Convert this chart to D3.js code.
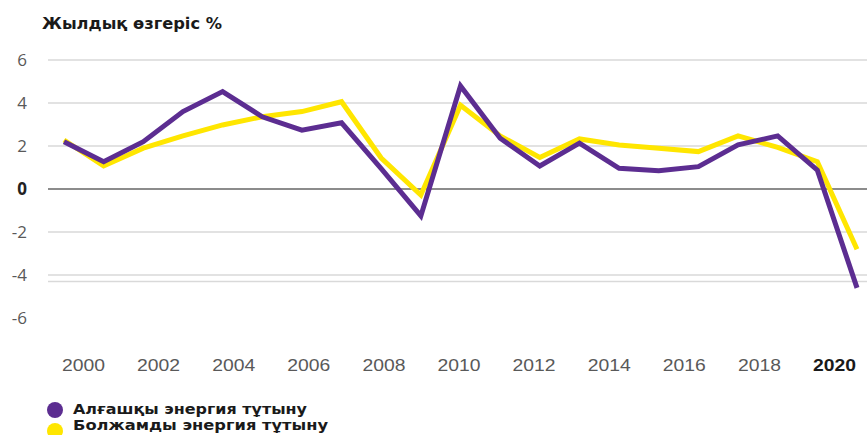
<!DOCTYPE html>
<html><head><meta charset="utf-8">
<script src="https://cdn.jsdelivr.net/npm/d3@7"></script>
<style>html,body{margin:0;padding:0;background:#fff;}svg{display:block;}</style>
</head><body>
<svg id="c" width="867" height="435"></svg>
<script>
const years = d3.range(2000, 2021);
const primary =  [2.2, 1.27, 2.2, 3.6, 4.53, 3.36, 2.74, 3.08, 0.95, -1.25, 4.79, 2.36, 1.07, 2.13, 0.96, 0.85, 1.04, 2.05, 2.47, 0.88, -4.6];
const forecast = [2.28, 1.07, 1.9, 2.47, 2.98, 3.36, 3.6, 4.06, 1.44, -0.28, 3.9, 2.47, 1.47, 2.33, 2.05, 1.9, 1.74, 2.47, 1.94, 1.27, -2.8];
const xTickLabels = [2000, 2002, 2004, 2006, 2008, 2010, 2012, 2014, 2016, 2018, 2020];
const yTicks = [6, 4, 2, 0, -2, -4, -6];
const gridValues = [6, 4, 2, -2, -4, -4.3];
const seriesNames = ["Алғашқы энергия тұтыну", "Болжамды энергия тұтыну"];
const titleText = "Жылдық өзгеріс %";

const svg = d3.select("#c");
const x = d3.scaleLinear().domain([2000, 2020]).range([64, 857]);
const xLab = d3.scaleLinear().domain([2000, 2020]).range([83, 834]);
const y = d3.scaleLinear().domain([-6, 6]).range([318, 60]);

svg.append("text").attr("x", 42).attr("y", 29).text(titleText)
  .attr("font-family", "DejaVu Sans").attr("font-weight", "bold").attr("font-size", 15)
  .attr("textLength", 180).attr("lengthAdjust", "spacingAndGlyphs")
  .attr("fill", "#1a1a1a");

// grid
svg.append("g").selectAll("line").data(gridValues).join("line")
  .attr("x1", 48).attr("x2", 867).attr("y1", d => y(d)).attr("y2", d => y(d))
  .attr("stroke", "#d9d9d9").attr("stroke-width", 1.5);
svg.append("line").attr("x1", 48).attr("x2", 867).attr("y1", y(0)).attr("y2", y(0))
  .attr("stroke", "#8c8c8c").attr("stroke-width", 2);

// y axis labels
const yAxis = d3.axisLeft(y).tickValues(yTicks).tickSize(0).tickPadding(0).tickFormat(d => String(d));
const gy = svg.append("g").attr("transform", "translate(27,0)").call(yAxis);
gy.select(".domain").remove();
gy.selectAll("text").attr("font-family", "Open Sans").attr("font-size", 17)
  .attr("fill", d => d === 0 ? "#222" : "#595959").attr("font-weight", d => d === 0 ? "bold" : "normal")
  .attr("dy", "0.35em");

// x axis labels
const xAxis = d3.axisBottom(xLab).tickValues(xTickLabels).tickSize(0).tickPadding(0).tickFormat(d3.format("d"));
const gx = svg.append("g").attr("transform", "translate(0,357)").call(xAxis);
gx.select(".domain").remove();
gx.selectAll("text").attr("font-family", "Liberation Sans").attr("font-size", 17).attr("dy", "0.8em")
  .attr("fill", d => d === 2020 ? "#1a1a1a" : "#595959")
  .attr("font-weight", d => d === 2020 ? "bold" : "normal")
  .attr("textLength", 43).attr("lengthAdjust", "spacingAndGlyphs");

// lines
const line = d3.line().x((d, i) => x(years[i])).y(d => y(d));
svg.append("path").datum(forecast).attr("d", line).attr("fill", "none")
  .attr("stroke", "#ffe600").attr("stroke-width", 5).attr("stroke-linejoin", "miter");
svg.append("path").datum(primary).attr("d", line).attr("fill", "none")
  .attr("stroke", "#5c2d91").attr("stroke-width", 5).attr("stroke-linejoin", "miter");

// legend
const legColors = ["#5c2d91", "#ffe600"];
const legWidths = [234, 255];
const lg = svg.append("g").selectAll("g").data(seriesNames).join("g");
lg.append("circle").attr("cx", 55).attr("cy", (d, i) => 410 + i * 21).attr("r", 8)
  .attr("fill", (d, i) => legColors[i]);
lg.append("text").attr("x", 73).attr("y", (d, i) => 414 + i * 16).text(d => d)
  .attr("font-family", "DejaVu Sans").attr("font-weight", "bold").attr("font-size", 14.5)
  .attr("textLength", (d, i) => legWidths[i]).attr("lengthAdjust", "spacingAndGlyphs")
  .attr("fill", "#1a1a1a");
</script>
</body></html>
